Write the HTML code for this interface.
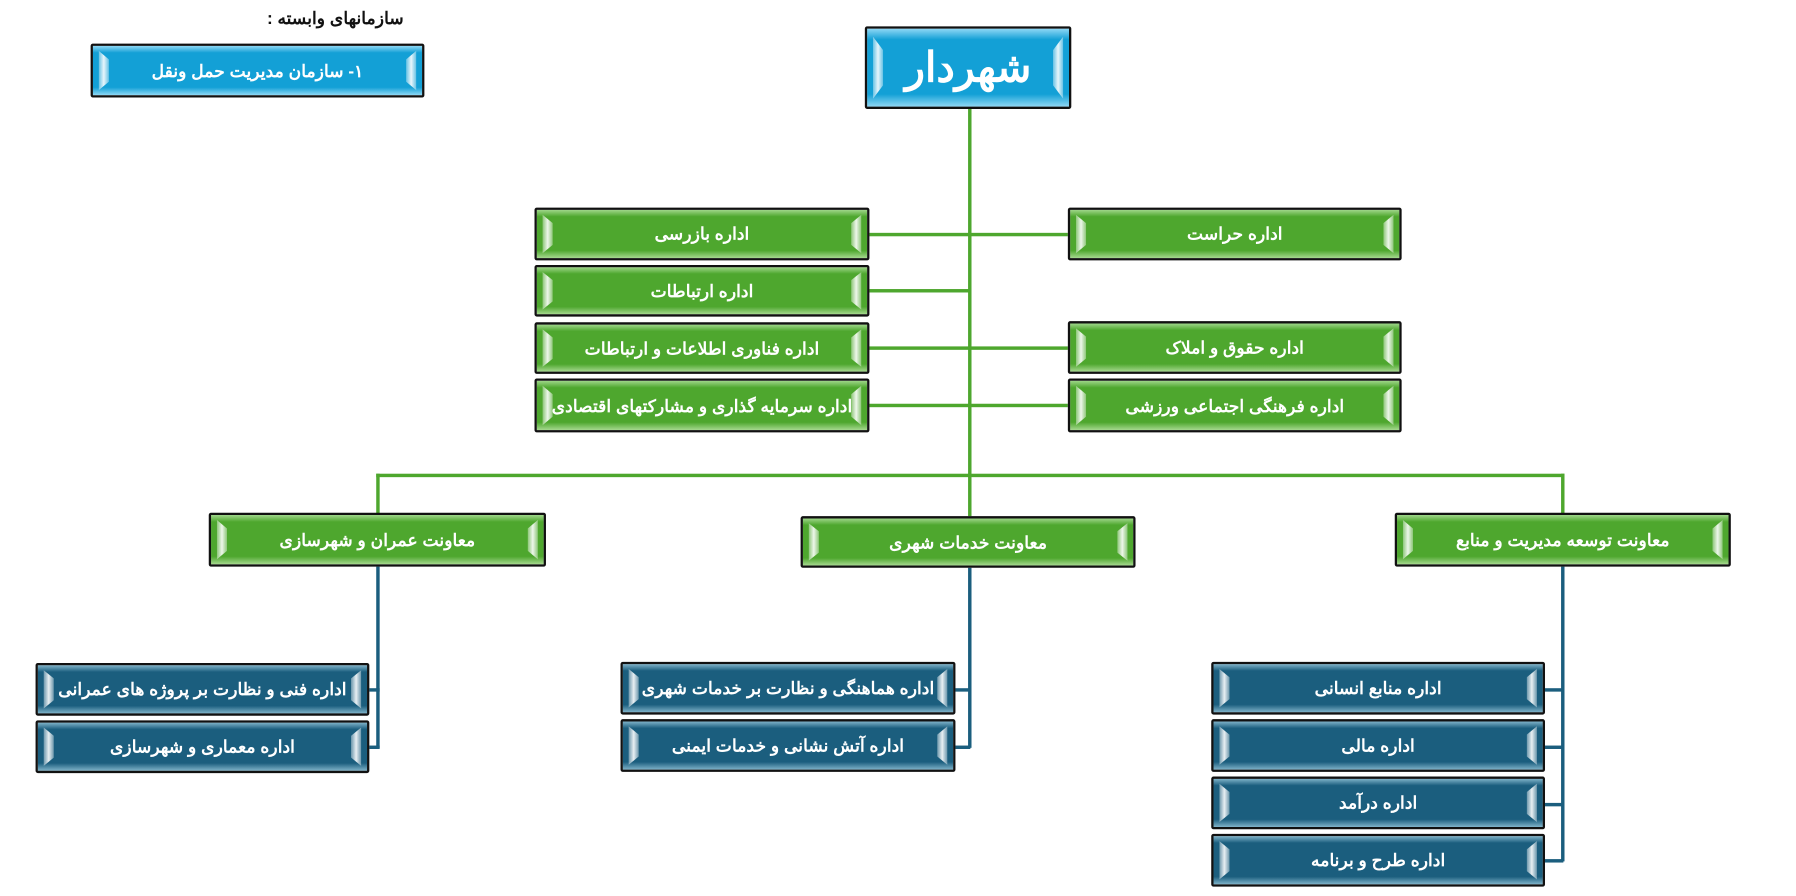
<!DOCTYPE html>
<html><head><meta charset="utf-8"><style>
html,body{margin:0;padding:0;background:#fff;width:1796px;height:896px;overflow:hidden}
#c{position:absolute;left:0;top:0;width:1566px;height:781px;transform:scale(1.147);transform-origin:0 0}
.b{position:absolute;box-sizing:border-box;border:2px solid #111;color:#fff;font:bold 15px "Liberation Sans","Noto Sans CJK SC",sans-serif;direction:rtl;display:flex;align-items:center;justify-content:center;white-space:nowrap;border-radius:2px}
.b::before,.b::after{content:"";position:absolute;top:10%;bottom:10%;width:9px;background:linear-gradient(90deg,rgba(255,255,255,.35),rgba(255,255,255,.9),rgba(255,255,255,.35))}
.b::before{left:5px;clip-path:polygon(0 0,100% 22%,100% 78%,0 100%)}
.b::after{right:5px;clip-path:polygon(0 22%,100% 0,100% 100%,0 78%)}
.g{background:linear-gradient(180deg,#9fd68a 0,#4ea72e 14%,#4ea72e 84%,#a6d98f 100%)}
.bl{background:linear-gradient(180deg,#8fd8f5 0,#13a0d6 14%,#13a0d6 84%,#8fd8f5 100%)}
.d{background:linear-gradient(180deg,#7fb3c9 0,#1b5e7e 14%,#1b5e7e 84%,#7fb3c9 100%)}
.l{position:absolute;background:#4ea72e}
.m{position:absolute;background:#1b5e7e}
</style></head><body><div id="c">
<div style="position:absolute;left:180px;top:7px;width:172px;text-align:right;direction:rtl;font:bold 15px 'Liberation Sans','Noto Sans CJK SC',sans-serif;color:#111">سازمانهای وابسته :</div>
<div class="l" style="left:844px;top:95px;width:3px;height:355px"></div>
<div class="l" style="left:328px;top:413px;width:1036px;height:3px"></div>
<div class="l" style="left:328px;top:413px;width:3px;height:35px"></div>
<div class="l" style="left:1361px;top:413px;width:3px;height:35px"></div>
<div class="l" style="left:758px;top:203px;width:173px;height:3px"></div>
<div class="l" style="left:758px;top:252px;width:88px;height:3px"></div>
<div class="l" style="left:758px;top:302px;width:173px;height:3px"></div>
<div class="l" style="left:758px;top:352px;width:173px;height:3px"></div>
<div class="m" style="left:328px;top:494px;width:3px;height:158px"></div>
<div class="m" style="left:322px;top:600px;width:9px;height:3px"></div>
<div class="m" style="left:322px;top:650px;width:9px;height:3px"></div>
<div class="m" style="left:844px;top:495px;width:3px;height:157px"></div>
<div class="m" style="left:833px;top:600px;width:13px;height:3px"></div>
<div class="m" style="left:833px;top:650px;width:13px;height:3px"></div>
<div class="m" style="left:1361px;top:494px;width:3px;height:257px"></div>
<div class="m" style="left:1347px;top:600px;width:16px;height:3px"></div>
<div class="m" style="left:1347px;top:650px;width:16px;height:3px"></div>
<div class="m" style="left:1347px;top:700px;width:16px;height:3px"></div>
<div class="m" style="left:1347px;top:749px;width:16px;height:3px"></div>

<div class="b bl" style="left:754px;top:23px;width:180px;height:72px;font-size:36px">شهردار</div>
<div class="b bl" style="left:79px;top:38px;width:291px;height:47px">۱- سازمان مدیریت حمل ونقل</div>

<div class="b g" style="left:466px;top:181px;width:292px;height:46px">اداره بازرسی</div>
<div class="b g" style="left:466px;top:231px;width:292px;height:45px">اداره ارتباطات</div>
<div class="b g" style="left:466px;top:281px;width:292px;height:45px">اداره فناوری اطلاعات و ارتباطات</div>
<div class="b g" style="left:466px;top:330px;width:292px;height:47px">اداره سرمایه گذاری و مشارکتهای اقتصادی</div>
<div class="b g" style="left:931px;top:181px;width:291px;height:46px">اداره حراست</div>
<div class="b g" style="left:931px;top:280px;width:291px;height:46px">اداره حقوق و املاک</div>
<div class="b g" style="left:931px;top:330px;width:291px;height:47px">اداره فرهنگی اجتماعی ورزشی</div>

<div class="b g" style="left:182px;top:447px;width:294px;height:47px">معاونت عمران و شهرسازی</div>
<div class="b g" style="left:698px;top:450px;width:292px;height:45px">معاونت خدمات شهری</div>
<div class="b g" style="left:1216px;top:447px;width:293px;height:47px">معاونت توسعه مدیریت و منابع</div>

<div class="b d" style="left:31px;top:578px;width:291px;height:46px">اداره فنی و نظارت بر پروژه های عمرانی</div>
<div class="b d" style="left:31px;top:628px;width:291px;height:46px">اداره معماری و شهرسازی</div>
<div class="b d" style="left:541px;top:577px;width:292px;height:46px">اداره هماهنگی و نظارت بر خدمات شهری</div>
<div class="b d" style="left:541px;top:627px;width:292px;height:46px">اداره آتش نشانی و خدمات ایمنی</div>
<div class="b d" style="left:1056px;top:577px;width:291px;height:46px">اداره منابع انسانی</div>
<div class="b d" style="left:1056px;top:627px;width:291px;height:46px">اداره مالی</div>
<div class="b d" style="left:1056px;top:677px;width:291px;height:46px">اداره درآمد</div>
<div class="b d" style="left:1056px;top:727px;width:291px;height:46px">اداره طرح و برنامه</div>
</div></body></html>
